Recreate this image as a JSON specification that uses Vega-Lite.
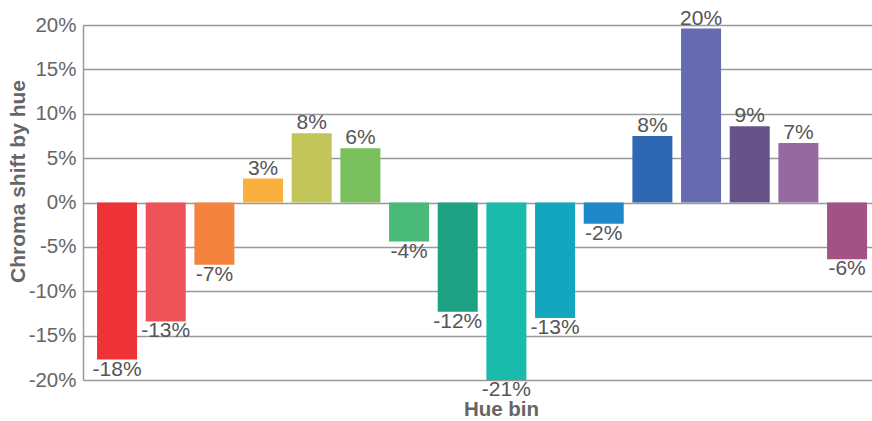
{
  "$schema": "https://vega.github.io/schema/vega-lite/v6.json",
  "width": 789,
  "height": 355,
  "autosize": {"type": "none"},
  "padding": {"left": 83, "top": 25, "right": 0, "bottom": 41},
  "background": "white",
  "config": {"view": {"stroke": null}, "font": "Liberation Sans",
    "locale": {"number": {"decimal": ".", "thousands": ",", "grouping": [3], "currency": ["$", ""], "minus": "-"}}},
  "data": {"values": [
    {"bin": "1", "v": -0.177, "c": "#EE3338"},
    {"bin": "2", "v": -0.134, "c": "#EE5359"},
    {"bin": "3", "v": -0.070, "c": "#F4843D"},
    {"bin": "4", "v": 0.027, "c": "#FBAF3C"},
    {"bin": "5", "v": 0.078, "c": "#C1C55A"},
    {"bin": "6", "v": 0.061, "c": "#79BF5B"},
    {"bin": "7", "v": -0.044, "c": "#49BA78"},
    {"bin": "8", "v": -0.123, "c": "#1FA283"},
    {"bin": "9", "v": -0.206, "c": "#1ABBAC"},
    {"bin": "10", "v": -0.130, "c": "#13A7BF"},
    {"bin": "11", "v": -0.024, "c": "#1E88C8"},
    {"bin": "12", "v": 0.075, "c": "#2F68B2"},
    {"bin": "13", "v": 0.196, "c": "#666AB0"},
    {"bin": "14", "v": 0.086, "c": "#665489"},
    {"bin": "15", "v": 0.067, "c": "#966AA1"},
    {"bin": "16", "v": -0.064, "c": "#A25283"}
  ]},
  "encoding": {
    "x": {"field": "bin", "type": "nominal", "sort": null,
      "scale": {"paddingInner": 0.178, "paddingOuter": 0.195, "align": 0.74},
      "axis": {"title": "Hue bin", "labels": false, "ticks": false, "domain": false,
        "titleFontSize": 20.5, "titleFontWeight": "bold", "titleColor": "#666666",
        "titleX": 418, "titleY": 35, "titleBaseline": "alphabetic"}},
    "y": {"field": "v", "type": "quantitative",
      "scale": {"domain": [-0.2, 0.2], "nice": false, "clamp": true, "zero": false},
      "axis": {"title": "Chroma shift by hue", "format": ".0%", "values": [-0.2, -0.15, -0.1, -0.05, 0, 0.05, 0.1, 0.15, 0.2],
        "labelFontSize": 20.5, "labelColor": "#666666", "labelPadding": 7, "ticks": false,
        "gridColor": "#999999", "gridWidth": 1.5, "domainColor": "#999999", "domainWidth": 1.5,
        "titleFontSize": 21, "titleFontWeight": "bold", "titleColor": "#666666",
        "titleX": -65, "titleY": 156, "titleBaseline": "middle", "titleAngle": -90}}
  },
  "layer": [
    {"mark": {"type": "bar"}, "encoding": {"color": {"field": "c", "type": "nominal", "scale": null}}},
    {"transform": [{"filter": "datum.v >= 0"}],
      "mark": {"type": "text", "baseline": "bottom", "dy": 0, "fontSize": 21, "color": "#555555"},
      "encoding": {"text": {"field": "v", "type": "quantitative", "format": ".0%"}}},
    {"transform": [{"filter": "datum.v < 0"}],
      "mark": {"type": "text", "baseline": "top", "dy": -1, "fontSize": 21, "color": "#555555"},
      "encoding": {"text": {"field": "v", "type": "quantitative", "format": ".0%"}}}
  ]
}
